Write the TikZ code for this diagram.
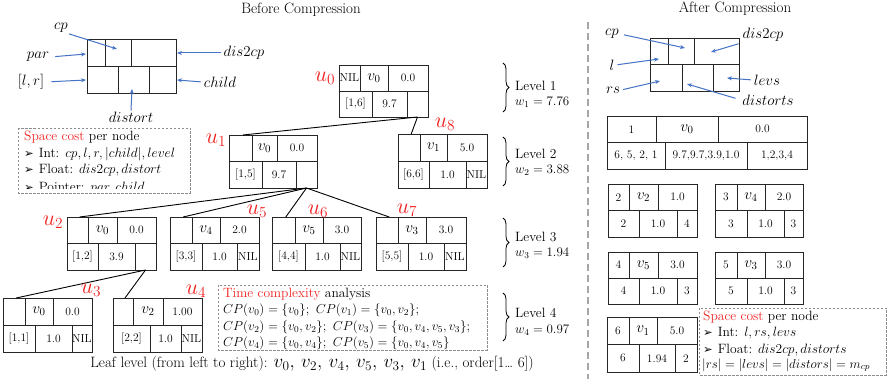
\RequirePackage{fix-cm}
\documentclass[tikz,border=0pt]{standalone}
\usepackage{fontspec}
\usetikzlibrary{arrows.meta,decorations.pathreplacing,calc}
\newfontfamily\dejavu{DejaVu Sans}
\definecolor{myblue}{RGB}{68,114,196}
\definecolor{myred}{RGB}{240,32,32}
\definecolor{dashgray}{RGB}{140,140,140}
\newcommand\vv[1]{{\fontsize{15.5}{16}\selectfont$v_{#1}$}}
\newcommand\bul{{\dejavu\fontsize{11.5}{11.5}\selectfont ➢}\hspace{5pt}}
\tikzset{
  boxline/.style={draw=black!85, line width=0.8pt},
  ct/.style={inner sep=0pt, font=\fontsize{11.5}{13}\selectfont},
  edge/.style={black, line width=0.9pt},
  arr/.style={myblue, line width=1pt, -{Stealth[length=5pt,width=4pt]}},
  ulab/.style={text=myred, inner sep=0pt, font=\fontsize{22}{23}\selectfont},
  sl/.style={inner sep=1pt, font=\fontsize{15}{16}\selectfont},
  lvl/.style={anchor=west, inner sep=0pt, font=\fontsize{13.5}{15}\selectfont},
  lvm/.style={anchor=west, inner sep=0pt, font=\fontsize{13}{15}\selectfont},
  tl/.style={anchor=west, inner sep=0pt, font=\fontsize{13.5}{15}\selectfont},
  tm/.style={anchor=west, inner sep=0pt, font=\fontsize{13}{14}\selectfont},
  dbox/.style={draw=dashgray, line width=0.8pt, dash pattern=on 2.5pt off 1.5pt},
  brc/.style={decorate, decoration={brace, amplitude=6pt}, line width=0.8pt},
  sep/.style={draw=black!35, line width=1.8pt, dash pattern=on 7pt off 4pt},
  ttl/.style={inner sep=0pt, font=\fontsize{15}{16}\selectfont},
}
% #1 name, #2 x, #3 y (top-left), #4 w, #5 h, #6 #7 top dividers, #8 #9 bottom dividers
\newcommand\frm[9]{%
  \node[boxline, inner sep=0pt, minimum width=#4pt, minimum height=#5pt, anchor=north west] (#1) at (#2,#3) {};
  \draw[boxline] (#1.west) -- (#1.east);
  \draw[boxline] ($(#1.north west)+(#6,0)$) -- ($(#1.west)+(#6,0)$);
  \draw[boxline] ($(#1.north west)+(#7,0)$) -- ($(#1.west)+(#7,0)$);
  \draw[boxline] ($(#1.west)+(#8,0)$) -- ($(#1.south west)+(#8,0)$);
  \draw[boxline] ($(#1.west)+(#9,0)$) -- ($(#1.south west)+(#9,0)$);
  \coordinate (#1-c1) at ({#2+#6/2},{#3+#5/4});
  \coordinate (#1-c2) at ({#2+(#6+#7)/2},{#3+#5/4});
  \coordinate (#1-c3) at ({#2+(#7+#4)/2},{#3+#5/4});
  \coordinate (#1-c4) at ({#2+#8/2},{#3+3*#5/4});
  \coordinate (#1-c5) at ({#2+(#8+#9)/2},{#3+3*#5/4});
  \coordinate (#1-c6) at ({#2+(#9+#4)/2},{#3+3*#5/4});
  \coordinate (#1-par) at ({#2+0.6*#6},#3);
  \coordinate (#1-child) at ({#2+(#9+#4)/2},{#3+#5});
}
\newcommand\cells[7]{%
  \node[ct] (#1-t1) at (#1-c1) {#2};
  \node[ct] (#1-t2) at (#1-c2) {#3};
  \node[ct] (#1-t3) at (#1-c3) {#4};
  \node[ct] (#1-t4) at (#1-c4) {#5};
  \node[ct] (#1-t5) at (#1-c5) {#6};
  \node[ct] (#1-t6) at (#1-c6) {#7};
}
\begin{document}
\begin{tikzpicture}[x=1pt,y=-1pt]
\useasboundingbox (0,0) rectangle (887,379);

% titles
\node[ttl] (t1) at (301,10) {Before Compression};
\node[ttl] (t2) at (735,9) {After Compression};

% separator
\coordinate (s1) at (588,22);
\coordinate (s2) at (588,379);
\draw[sep] (s1) -- (s2);

% ---------- left schema ----------
\frm{sL}{87}{39}{89}{54}{18}{44}{31}{62}
\node[sl] (Lcp) at (61,28) {$cp$};
\node[sl] (Lpar) at (38,57) {$par$};
\node[sl] (Ldis) at (244,53) {$dis2cp$};
\node[sl] (Llr) at (31,82) {$[l,r]$};
\node[sl] (Lchild) at (220,82) {$child$};
\node[sl] (Ldist) at (131,117) {$distort$};
\coordinate (Tcp) at (117,49);
\coordinate (Tpar) at (86,54);
\coordinate (Tdis) at (177,53);
\coordinate (Tlr) at (86,80);
\coordinate (Tchild) at (177,80);
\coordinate (Tdist) at (132,89);
\draw[arr] (Lcp.south east) -- (Tcp);
\draw[arr, shorten <=5pt] (Lpar.east) -- (Tpar);
\draw[arr, shorten <=2pt] (Ldis.west) -- (Tdis);
\draw[arr, shorten <=6pt] (Llr.east) -- (Tlr);
\draw[arr, shorten <=2pt] (Lchild.west) -- (Tchild);
\draw[arr] (Ldist.north) -- (Tdist);

% left space-cost box
\draw[dbox] (18,128) rectangle (190,193);
\node[tl] (sc0) at (24,137) {\textcolor{myred}{Space cost} per node};
\node[tl] (sc1) at (24,154) {\bul Int: $cp,l,r,|child|,level$};
\node[tl] (sc2) at (24,170) {\bul Float: $dis2cp,distort$};
\begin{scope}
\clip (18,170) rectangle (190,189);
\node[tl] (sc3) at (24,188) {\bul Pointer: $par,child$};
\end{scope}

% ---------- tree ----------
\frm{u0}{339}{65}{89}{52}{21}{49}{33}{68}
\cells{u0}{NIL}{\vv0}{0.0}{[1,6]}{9.7}{}
\frm{u1}{229}{135}{88}{53}{23}{48}{33}{67}
\cells{u1}{}{\vv0}{0.0}{[1,5]}{9.7}{}
\frm{u8}{398}{134}{89}{54}{22}{49}{31}{68}
\cells{u8}{}{\vv1}{5.0}{[6,6]}{1.0}{NIL}
\frm{u2}{67}{217}{89}{53}{21}{50}{31}{68}
\cells{u2}{}{\vv0}{0.0}{[1,2]}{3.9}{}
\frm{u5}{170}{217}{89}{53}{22}{50}{32}{67}
\cells{u5}{}{\vv4}{2.0}{[3,3]}{1.0}{NIL}
\frm{u6}{272}{217}{89}{53}{23}{51}{33}{68}
\cells{u6}{}{\vv5}{3.0}{[4,4]}{1.0}{NIL}
\frm{u7}{376}{217}{90}{53}{22}{50}{32}{68}
\cells{u7}{}{\vv3}{3.0}{[5,5]}{1.0}{NIL}
\frm{u3}{3}{298}{89}{54}{22}{50}{32}{69}
\cells{u3}{}{\vv0}{0.0}{[1,1]}{1.0}{NIL}
\frm{u4}{113}{298}{89}{54}{20}{50}{37}{68}
\cells{u4}{}{\vv2}{1.00}{[2,2]}{1.0}{NIL}

\draw[edge] (u0-child) -- (u1-par);
\draw[edge] (u0-child) -- (u8-par);
\draw[edge] (u1-child) -- (u2-par);
\draw[edge] (u1-child) -- (u5-par);
\draw[edge] (u1-child) -- (u6-par);
\draw[edge] (u1-child) -- (u7-par);
\draw[edge] (u2-child) -- (u3-par);
\draw[edge] (u2-child) -- (u4-par);

\node[ulab] (lu0) at (325,78) {$u_0$};
\node[ulab] (lu1) at (216,140) {$u_1$};
\node[ulab] (lu8) at (445,124) {$u_8$};
\node[ulab] (lu2) at (53,222) {$u_2$};
\node[ulab] (lu5) at (257,211) {$u_5$};
\node[ulab] (lu6) at (318,211) {$u_6$};
\node[ulab] (lu7) at (407,210) {$u_7$};
\node[ulab] (lu3) at (91,290) {$u_3$};
\node[ulab] (lu4) at (196,291) {$u_4$};

% levels
\draw[brc] (503,63) -- (503,112);
\node[lvl] (lv1) at (515,86) {Level 1};
\node[lvm] (lw1) at (515,102) {$w_1 = 7.76$};
\draw[brc] (503,137) -- (503,186);
\node[lvl] (lv2) at (515,154) {Level 2};
\node[lvm] (lw2) at (515,170) {$w_2 = 3.88$};
\draw[brc] (503,218) -- (503,267);
\node[lvl] (lv3) at (515,237) {Level 3};
\node[lvm] (lw3) at (515,253) {$w_3 = 1.94$};
\draw[brc] (503,293) -- (503,341);
\node[lvl] (lv4) at (515,313) {Level 4};
\node[lvm] (lw4) at (515,330) {$w_4 = 0.97$};

% time complexity
\draw[dbox] (218,285) rectangle (487,350);
\node[tl] (tc0) at (223,294) {\textcolor{myred}{Time complexity} analysis};
\node[tm] (tc1) at (223,310) {$CP(v_0)=\{v_0\};\ CP(v_1)=\{v_0,v_2\};$};
\node[tm] (tc2) at (223,327) {$CP(v_2)=\{v_0,v_2\};\ CP(v_3)=\{v_0,v_4,v_5,v_3\};$};
\node[tm] (tc3) at (223,343) {$CP(v_4)=\{v_0,v_4\};\ CP(v_5)=\{v_0,v_4,v_5\}$};

% leaf level
\node[inner sep=0pt, font=\fontsize{15}{16}\selectfont] (leaf) at (312,364)
  {Leaf level (from left to right): {\fontsize{19}{20}\selectfont$v_0,\, v_2,\, v_4,\, v_5,\, v_3,\, v_1$} (i.e., order[1… 6])};

% ---------- right schema ----------
\frm{sR}{650}{38}{89}{53}{18}{44}{32}{63}
\node[sl] (Rcp) at (612,34) {$cp$};
\node[sl] (Rdis) at (763,35) {$dis2cp$};
\node[sl] (Rl) at (612,65) {$l$};
\node[sl] (Rrs) at (613,90) {$rs$};
\node[sl] (Rlevs) at (767,80) {$levs$};
\node[sl] (Rdist) at (768,100) {$distorts$};
\coordinate (Scp) at (685,48);
\coordinate (Sdis) at (711,52);
\coordinate (Sl) at (659,59);
\coordinate (Srs) at (660,81);
\coordinate (Slevs) at (727,78);
\coordinate (Sdist) at (687,84);
\draw[arr, shorten <=4pt] (Rcp.east) -- (Scp);
\draw[arr, shorten <=3pt] (Rdis.south west) -- (Sdis);
\draw[arr, shorten <=2pt] (Rl.east) -- (Sl);
\draw[arr, shorten <=2pt] (Rrs.east) -- (Srs);
\draw[arr, shorten <=2pt] (Rlevs.west) -- (Slevs);
\draw[arr, shorten <=6pt] (Rdist.west) -- (Sdist);

% compressed nodes
\frm{c0}{607}{116}{200}{53}{49}{111}{58}{140}
\cells{c0}{1}{\vv0}{0.0}{6, 5, 2, 1}{9.7,9.7,3.9,1.0}{1,2,3,4}
\frm{c2}{608}{184}{89}{53}{21}{50}{31}{69}
\cells{c2}{2}{\vv2}{1.0}{2}{1.0}{4}
\frm{c4}{715}{184}{88}{53}{22}{50}{32}{69}
\cells{c4}{3}{\vv4}{2.0}{3}{1.0}{3}
\frm{c5}{608}{252}{89}{52}{21}{50}{31}{69}
\cells{c5}{4}{\vv5}{3.0}{4}{1.0}{3}
\frm{c3}{715}{252}{88}{52}{22}{50}{32}{69}
\cells{c3}{5}{\vv3}{3.0}{5}{1.0}{3}
\frm{c1}{607}{317}{90}{55}{22}{50}{32}{68}
\cells{c1}{6}{\vv1}{5.0}{6}{1.94}{2}

% right space-cost box
\draw[dbox] (699,308) rectangle (886,375);
\node[tl] (rc0) at (703,317) {\textcolor{myred}{Space cost} per node};
\node[tl] (rc1) at (703,333) {\bul Int: $l,rs,levs$};
\node[tl] (rc2) at (703,350) {\bul Float: $dis2cp,distorts$};
\node[tl, font=\fontsize{13}{14}\selectfont] (rc3) at (702,365) {$|rs|=|levs|=|distors|=m_{cp}$};
\end{tikzpicture}
\end{document}
